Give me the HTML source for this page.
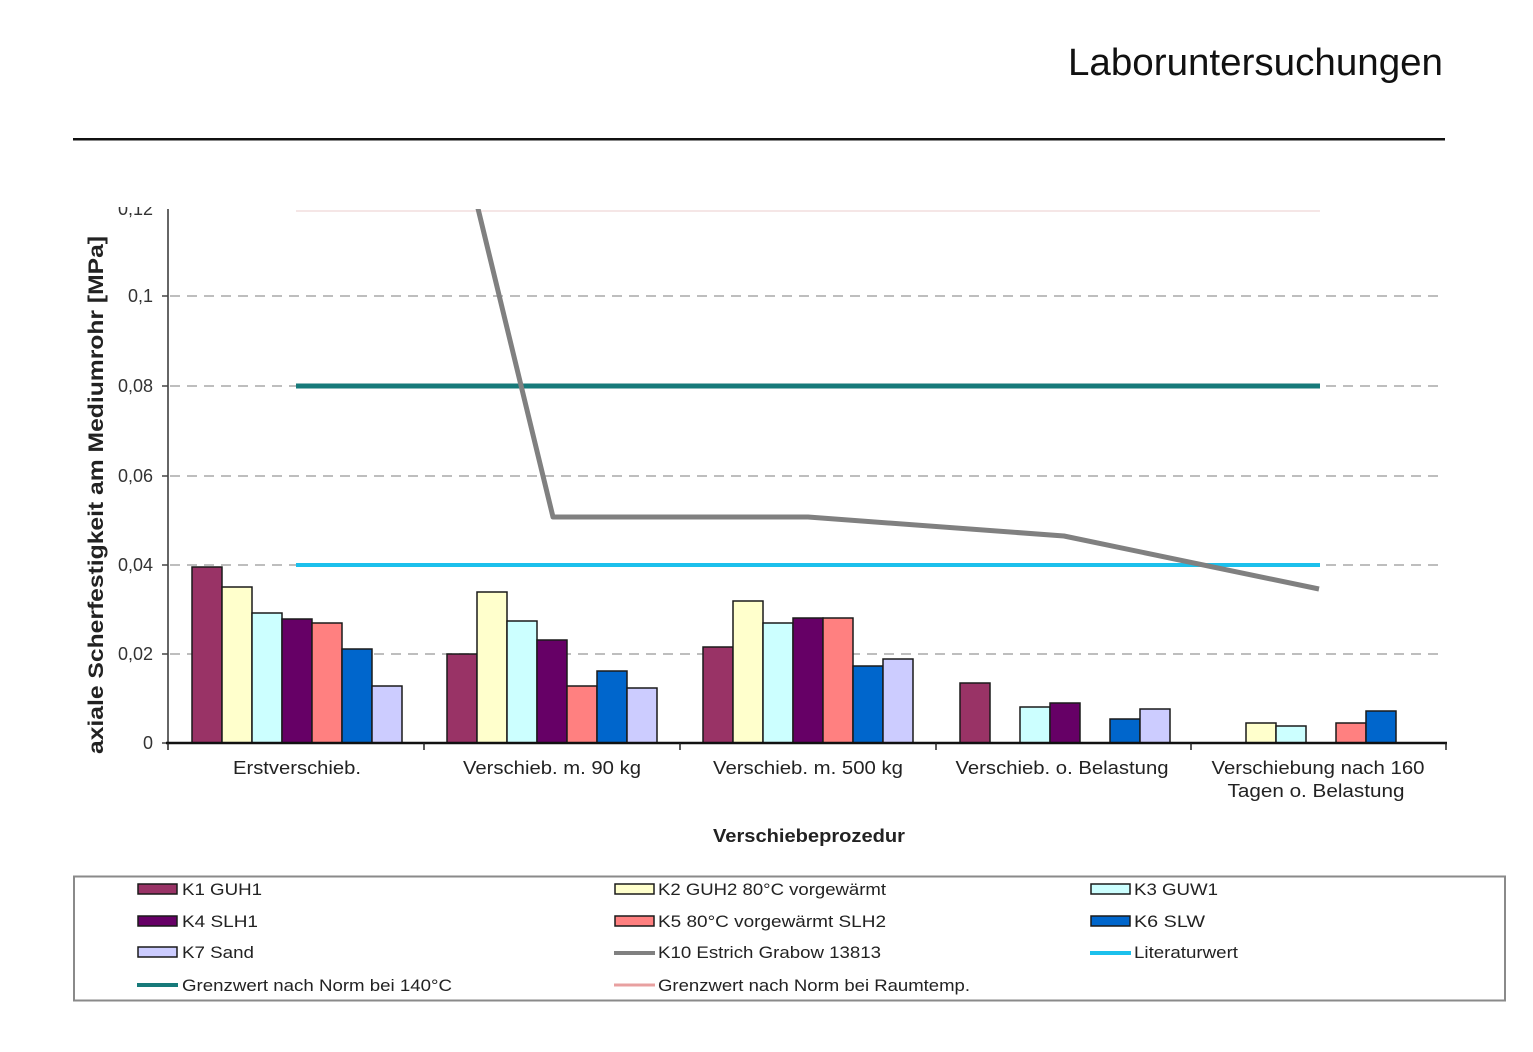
<!DOCTYPE html>
<html><head><meta charset="utf-8"><style>
html,body{margin:0;padding:0;background:#fff;}
svg{display:block;font-family:"Liberation Sans",Arial,sans-serif;}
</style></head><body>
<svg width="1533" height="1052" viewBox="0 0 1533 1052" xmlns="http://www.w3.org/2000/svg">
<defs><clipPath id="pa"><rect x="168" y="209" width="1279" height="534"/></clipPath></defs>
<rect width="1533" height="1052" fill="#fff"/>
<!-- title -->
<text x="1443" y="75" font-size="38" text-anchor="end" fill="#111" textLength="375" lengthAdjust="spacingAndGlyphs">Laboruntersuchungen</text>
<rect x="73" y="138" width="1372" height="2.5" fill="#111"/>

<!-- gridlines -->
<g stroke="#a8a8a8" stroke-width="1.5" stroke-dasharray="10 7">
<line x1="170" y1="296" x2="1445" y2="296"/>
<line x1="170" y1="386" x2="1445" y2="386"/>
<line x1="170" y1="476" x2="1445" y2="476"/>
<line x1="170" y1="565" x2="1445" y2="565"/>
<line x1="170" y1="654" x2="1445" y2="654"/>
</g>
<!-- y axis -->
<line x1="168" y1="209" x2="168" y2="744" stroke="#555" stroke-width="1.8"/>
<g stroke="#444" stroke-width="1.5">
<line x1="162" y1="296" x2="168" y2="296"/>
<line x1="162" y1="386" x2="168" y2="386"/>
<line x1="162" y1="476" x2="168" y2="476"/>
<line x1="162" y1="565" x2="168" y2="565"/>
<line x1="162" y1="654" x2="168" y2="654"/>
<line x1="162" y1="743" x2="168" y2="743"/>
</g>
<g font-size="18" fill="#333" text-anchor="end">
<text x="153" y="215">0,12</text>
<text x="153" y="302">0,1</text>
<text x="153" y="392">0,08</text>
<text x="153" y="482">0,06</text>
<text x="153" y="571">0,04</text>
<text x="153" y="660">0,02</text>
<text x="153" y="749">0</text>
</g>
<rect x="100" y="150" width="62" height="57" fill="#fff"/>
<text transform="translate(103,495) rotate(-90)" font-size="21" font-weight="bold" fill="#222" text-anchor="middle" textLength="518" lengthAdjust="spacingAndGlyphs">axiale Scherfestigkeit am Mediumrohr [MPa]</text>

<!-- bars -->
<g stroke="#1a1a1a" stroke-width="1.5">
<!-- group 1 -->
<rect x="192" y="567" width="30" height="176" fill="#993366"/>
<rect x="222" y="587" width="30" height="156" fill="#FFFFCC"/>
<rect x="252" y="613" width="30" height="130" fill="#CCFFFF"/>
<rect x="282" y="619" width="30" height="124" fill="#660066"/>
<rect x="312" y="623" width="30" height="120" fill="#FF8080"/>
<rect x="342" y="649" width="30" height="94" fill="#0066CC"/>
<rect x="372" y="686" width="30" height="57" fill="#CCCCFF"/>
<!-- group 2 -->
<rect x="447" y="654" width="30" height="89" fill="#993366"/>
<rect x="477" y="592" width="30" height="151" fill="#FFFFCC"/>
<rect x="507" y="621" width="30" height="122" fill="#CCFFFF"/>
<rect x="537" y="640" width="30" height="103" fill="#660066"/>
<rect x="567" y="686" width="30" height="57" fill="#FF8080"/>
<rect x="597" y="671" width="30" height="72" fill="#0066CC"/>
<rect x="627" y="688" width="30" height="55" fill="#CCCCFF"/>
<!-- group 3 -->
<rect x="703" y="647" width="30" height="96" fill="#993366"/>
<rect x="733" y="601" width="30" height="142" fill="#FFFFCC"/>
<rect x="763" y="623" width="30" height="120" fill="#CCFFFF"/>
<rect x="793" y="618" width="30" height="125" fill="#660066"/>
<rect x="823" y="618" width="30" height="125" fill="#FF8080"/>
<rect x="853" y="666" width="30" height="77" fill="#0066CC"/>
<rect x="883" y="659" width="30" height="84" fill="#CCCCFF"/>
<!-- group 4 -->
<rect x="960" y="683" width="30" height="60" fill="#993366"/>
<rect x="1020" y="707" width="30" height="36" fill="#CCFFFF"/>
<rect x="1050" y="703" width="30" height="40" fill="#660066"/>
<rect x="1110" y="719" width="30" height="24" fill="#0066CC"/>
<rect x="1140" y="709" width="30" height="34" fill="#CCCCFF"/>
<!-- group 5 -->
<rect x="1246" y="723" width="30" height="20" fill="#FFFFCC"/>
<rect x="1276" y="726" width="30" height="17" fill="#CCFFFF"/>
<rect x="1336" y="723" width="30" height="20" fill="#FF8080"/>
<rect x="1366" y="711" width="30" height="32" fill="#0066CC"/>
</g>

<!-- lines -->
<g clip-path="url(#pa)">
<line x1="296" y1="211" x2="1320" y2="211" stroke="#f5e6e6" stroke-width="2"/>
<line x1="296" y1="386" x2="1320" y2="386" stroke="#177a7a" stroke-width="5"/>
<line x1="296" y1="565" x2="1320" y2="565" stroke="#1cc0ec" stroke-width="4"/>
<polyline points="296,-540 553,517 808,517 1064,536 1319,589" fill="none" stroke="#808080" stroke-width="5" stroke-linejoin="round"/>
</g>

<!-- x axis -->
<line x1="166" y1="743" x2="1447" y2="743" stroke="#111" stroke-width="2.5"/>
<g stroke="#222" stroke-width="1.5">
<line x1="168" y1="743" x2="168" y2="750"/>
<line x1="424" y1="743" x2="424" y2="750"/>
<line x1="680" y1="743" x2="680" y2="750"/>
<line x1="936" y1="743" x2="936" y2="750"/>
<line x1="1191" y1="743" x2="1191" y2="750"/>
<line x1="1446" y1="743" x2="1446" y2="750"/>
</g>
<g font-size="18" fill="#222" text-anchor="middle">
<text x="297" y="774" textLength="128" lengthAdjust="spacingAndGlyphs">Erstverschieb.</text>
<text x="552" y="774" textLength="178" lengthAdjust="spacingAndGlyphs">Verschieb. m. 90 kg</text>
<text x="808" y="774" textLength="190" lengthAdjust="spacingAndGlyphs">Verschieb. m. 500 kg</text>
<text x="1062" y="774" textLength="213" lengthAdjust="spacingAndGlyphs">Verschieb. o. Belastung</text>
<text x="1318" y="774" textLength="213" lengthAdjust="spacingAndGlyphs">Verschiebung nach 160</text>
<text x="1316" y="797" textLength="177" lengthAdjust="spacingAndGlyphs">Tagen o. Belastung</text>
</g>
<text x="809" y="842" font-size="18" font-weight="bold" fill="#222" text-anchor="middle" textLength="192" lengthAdjust="spacingAndGlyphs">Verschiebeprozedur</text>

<!-- legend -->
<rect x="74" y="876.5" width="1431" height="124" fill="#fff" stroke="#8a8a8a" stroke-width="2"/>
<g stroke="#1a1a1a" stroke-width="1.5">
<rect x="138" y="884" width="39" height="10" fill="#993366"/>
<rect x="615" y="884" width="39" height="10" fill="#FFFFCC"/>
<rect x="1091" y="884" width="39" height="10" fill="#CCFFFF"/>
<rect x="138" y="916" width="39" height="10" fill="#660066"/>
<rect x="615" y="916" width="39" height="10" fill="#FF8080"/>
<rect x="1091" y="916" width="39" height="10" fill="#0066CC"/>
<rect x="138" y="947" width="39" height="10" fill="#CCCCFF"/>
</g>
<line x1="614" y1="953" x2="655" y2="953" stroke="#808080" stroke-width="4"/>
<line x1="1090" y1="953" x2="1131" y2="953" stroke="#1cc0ec" stroke-width="4"/>
<line x1="137" y1="985" x2="178" y2="985" stroke="#177a7a" stroke-width="4"/>
<line x1="614" y1="985" x2="655" y2="985" stroke="#e8a0a0" stroke-width="3"/>
<g font-size="17" fill="#222">
<text x="182" y="895" textLength="80" lengthAdjust="spacingAndGlyphs">K1 GUH1</text>
<text x="658" y="895" textLength="228" lengthAdjust="spacingAndGlyphs">K2 GUH2 80°C vorgewärmt</text>
<text x="1134" y="895" textLength="84" lengthAdjust="spacingAndGlyphs">K3 GUW1</text>
<text x="182" y="927" textLength="76" lengthAdjust="spacingAndGlyphs">K4 SLH1</text>
<text x="658" y="927" textLength="228" lengthAdjust="spacingAndGlyphs">K5 80°C vorgewärmt SLH2</text>
<text x="1134" y="927" textLength="71" lengthAdjust="spacingAndGlyphs">K6 SLW</text>
<text x="182" y="958" textLength="72" lengthAdjust="spacingAndGlyphs">K7 Sand</text>
<text x="658" y="958" textLength="223" lengthAdjust="spacingAndGlyphs">K10 Estrich Grabow 13813</text>
<text x="1134" y="958" textLength="104" lengthAdjust="spacingAndGlyphs">Literaturwert</text>
<text x="182" y="991" textLength="270" lengthAdjust="spacingAndGlyphs">Grenzwert nach Norm bei 140°C</text>
<text x="658" y="991" textLength="312" lengthAdjust="spacingAndGlyphs">Grenzwert nach Norm bei Raumtemp.</text>
</g>
</svg>
</body></html>
